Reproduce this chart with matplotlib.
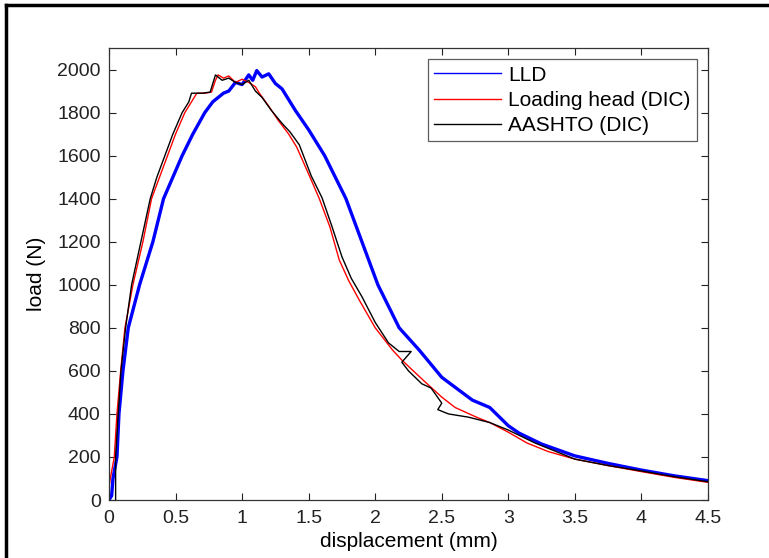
import matplotlib
matplotlib.use("Agg")
import matplotlib.pyplot as plt
from matplotlib.lines import Line2D

plt.rcParams['font.family'] = ['Liberation Sans', 'DejaVu Sans']

# LLD
lld_x = [0.0, 0.02, 0.03, 0.06, 0.075, 0.105, 0.145, 0.23, 0.33, 0.41, 0.48, 0.55, 0.63,
         0.72, 0.78, 0.86, 0.9, 0.95, 1.0, 1.05, 1.08, 1.11, 1.15, 1.2, 1.25, 1.3, 1.4,
         1.5, 1.62, 1.7, 1.78, 1.9, 2.02, 2.1, 2.18, 2.33, 2.5, 2.73, 2.86, 3.0, 3.08,
         3.25, 3.5, 3.75, 4.0, 4.25, 4.5]
lld_y = [0, 20, 100, 200, 400, 600, 800, 1000, 1200, 1400, 1500, 1600, 1700,
         1800, 1850, 1890, 1900, 1940, 1930, 1975, 1950, 1995, 1965, 1980, 1935, 1910, 1810,
         1720, 1600, 1500, 1400, 1200, 1000, 900, 800, 697, 570, 464, 430, 345, 311,
         260, 205, 170, 139, 112, 90]

# Loading head (DIC)
head_x = [0.0, 0.01, 0.04, 0.06, 0.088, 0.12, 0.18, 0.255, 0.32, 0.38, 0.44, 0.5, 0.57,
          0.62, 0.66, 0.72, 0.77, 0.80, 0.82, 0.86, 0.9, 0.95, 1.0, 1.05, 1.1, 1.13, 1.2,
          1.27, 1.35, 1.41, 1.51, 1.58, 1.66, 1.73, 1.8, 1.88, 2.0, 2.13, 2.2, 2.36, 2.5,
          2.6, 2.76, 2.86, 3.0, 3.14, 3.3, 3.5, 3.75, 4.0, 4.25, 4.5]
head_y = [60, 100, 200, 400, 600, 800, 1000, 1200, 1400, 1500, 1600, 1700, 1800,
          1850, 1890, 1890, 1895, 1950, 1975, 1960, 1970, 1940, 1955, 1940, 1920, 1890, 1830,
          1765, 1700, 1640, 1500, 1400, 1268, 1115, 1020, 929, 800, 697, 650, 557, 478,
          430, 385, 360, 315, 265, 225, 190, 160, 132, 105, 82]

# AASHTO (DIC)
aashto_x = [0.05, 0.05, 0.07, 0.09, 0.125, 0.17, 0.24, 0.31, 0.36, 0.42, 0.48, 0.55, 0.6,
            0.62, 0.7, 0.76, 0.8, 0.85, 0.9, 0.95, 1.0, 1.05, 1.1, 1.15, 1.22, 1.3, 1.36,
            1.43, 1.52, 1.6, 1.67, 1.75, 1.82, 1.9, 2.0, 2.1, 2.18, 2.27, 2.2, 2.25, 2.35,
            2.42, 2.5, 2.47, 2.55, 2.7, 2.86, 3.0, 3.2, 3.5, 3.75, 4.0, 4.25, 4.5]
aashto_y = [0, 200, 400, 600, 800, 1000, 1200, 1400, 1500, 1600, 1700, 1800, 1850,
            1890, 1890, 1895, 1975, 1950, 1960, 1940, 1930, 1950, 1900, 1870, 1810, 1750, 1710,
            1650, 1505, 1405, 1280, 1130, 1030, 945, 825, 730, 690, 690, 640, 600, 540,
            520, 450, 420, 400, 385, 360, 325, 265, 190, 160, 135, 108, 85]

fig = plt.figure(figsize=(7.69, 5.58), dpi=100)
ax = fig.add_axes([0.1417, 0.1039, 0.779, 0.8101])

ax.plot(lld_x, lld_y, color='#0000ff', lw=2.4, label='LLD')
ax.plot(head_x, head_y, color='#ff0000', lw=1.0, label='Loading head (DIC)')
ax.plot(aashto_x, aashto_y, color='black', lw=1.0, label='AASHTO (DIC)')

ax.set_xlim(0, 4.5)
ax.set_ylim(0, 2100)
ax.set_xticks([0, 0.5, 1, 1.5, 2, 2.5, 3, 3.5, 4, 4.5])
ax.set_xticklabels(['0', '0.5', '1', '1.5', '2', '2.5', '3', '3.5', '4', '4.5'])
ax.set_yticks(range(0, 2001, 200))
ax.tick_params(direction='in', top=True, right=True, length=5, width=0.8,
               labelsize=14, colors='#222222')
ax.tick_params(axis='x', pad=7)
ax.tick_params(axis='y', pad=6)
for s in ax.spines.values():
    s.set_linewidth(0.9)
    s.set_color('#333333')

ax.set_xlabel('displacement (mm)', fontsize=15, labelpad=4)
ax.set_ylabel('load (N)', fontsize=15, labelpad=8)

leg = ax.legend(loc='upper right', fontsize=15, frameon=True, fancybox=False,
                edgecolor='#333333', handlelength=3.2, borderaxespad=0.55,
                handletextpad=0.35, labelspacing=0.3, borderpad=0.3)
leg.get_frame().set_linewidth(0.9)
for line in leg.get_lines():
    line.set_linewidth(1.0)

# screenshot frame on left and top
fig.add_artist(Line2D([6 / 769, 6 / 769], [0, 1 - 5 / 558], transform=fig.transFigure,
                      color='black', lw=2.5))
fig.add_artist(Line2D([6 / 769, 1], [1 - 5 / 558, 1 - 5 / 558], transform=fig.transFigure,
                      color='black', lw=2.5))

fig.savefig('out.png', dpi=100)
